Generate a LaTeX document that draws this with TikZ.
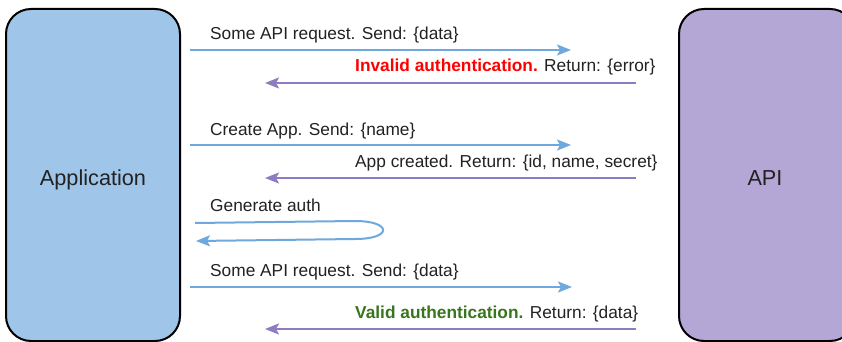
\documentclass[tikz,border=0pt]{standalone}
\usepackage{fontspec}
\setmainfont{Liberation Sans}
\usetikzlibrary{arrows.meta}

\definecolor{appfill}{HTML}{9FC5E8}
\definecolor{apifill}{HTML}{B4A7D6}
\definecolor{reqline}{HTML}{6FA8DC}
\definecolor{respline}{HTML}{8E7CC3}
\definecolor{txt}{HTML}{222222}
\definecolor{badred}{HTML}{FF0000}
\definecolor{goodgreen}{HTML}{38761D}

\tikzset{
  party/.style={draw=black, line width=2pt, rounded corners=25pt,
    inner sep=0pt},
  partyname/.style={inner sep=0pt, text=txt,
    font=\fontsize{21.7}{26}\selectfont},
  msg/.style={anchor=base west, inner sep=0pt, text=txt,
    font=\fontsize{17.3}{20}\selectfont},
  request/.style={draw=reqline, line width=2pt,
    -{Stealth[length=14pt,width=11pt,inset=3pt]}},
  response/.style={draw=respline, line width=2pt,
    -{Stealth[length=14pt,width=11pt,inset=3pt]}},
}

\begin{document}
\begin{tikzpicture}[x=1pt,y=-1pt]
  \clip (0,0) rectangle (842,342);
  \fill[white] (0,0) rectangle (842,342);

  % the two parties
  \node[party, fill=appfill, minimum width=174pt, minimum height=332pt]
    (app) at (93,175) {};
  \node[party, fill=apifill, minimum width=176pt, minimum height=332pt]
    (api) at (767,175) {};
  \node[partyname, anchor=base] (applabel) at (93,185) {Application};
  \node[partyname, anchor=base] (apilabel) at (765,185) {API};

  % message end points
  \coordinate (r1s) at (190,50);  \coordinate (r1e) at (571,50);
  \coordinate (p1s) at (636,83);  \coordinate (p1e) at (265,83);
  \coordinate (r2s) at (190,145); \coordinate (r2e) at (571,145);
  \coordinate (p2s) at (636,178); \coordinate (p2e) at (265,178);
  \coordinate (g1)  at (195,223); \coordinate (g2)  at (196,241);
  \coordinate (r3s) at (190,287); \coordinate (r3e) at (572,287);
  \coordinate (p3s) at (636,329); \coordinate (p3e) at (265,329);

  % labels
  \node[msg] (l1) at (210,40)  {Some API request. Send: \{data\}};
  \node[msg] (l2) at (355,72)  {\textcolor{badred}{\bfseries Invalid authentication.} Return: \{error\}};
  \node[msg] (l3) at (210,135) {Create App. Send: \{name\}};
  \node[msg] (l4) at (355,167) {App created. Return: \{id, name, secret\}};
  \node[msg] (l5) at (210,211) {Generate auth};
  \node[msg] (l6) at (210,276) {Some API request. Send: \{data\}};
  \node[msg] (l7) at (355,318) {\textcolor{goodgreen}{\bfseries Valid authentication.} Return: \{data\}};

  % messages
  \draw[request]  (r1s) -- (r1e);
  \draw[response] (p1s) -- (p1e);
  \draw[request]  (r2s) -- (r2e);
  \draw[response] (p2s) -- (p2e);
  \draw[request]  (g1) -- (355,221)
      .. controls (392,221) and (393,239) .. (355,239) -- (g2);
  \draw[request]  (r3s) -- (r3e);
  \draw[response] (p3s) -- (p3e);
\end{tikzpicture}
\end{document}
